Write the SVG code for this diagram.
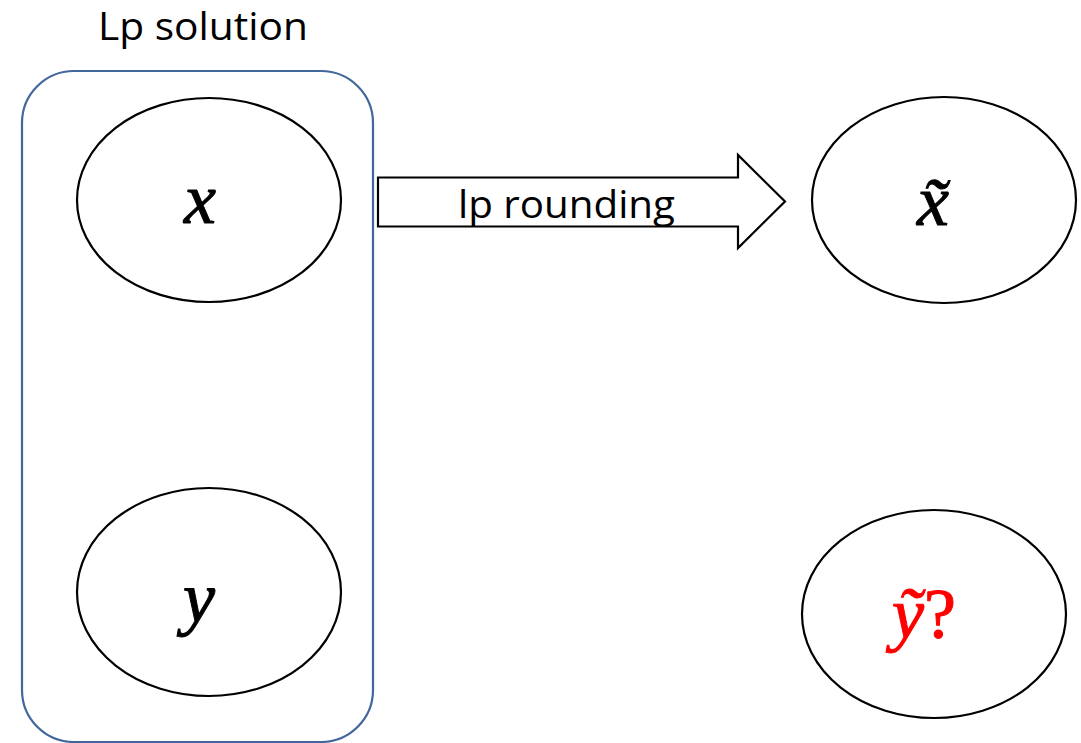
<svg xmlns="http://www.w3.org/2000/svg" width="1081" height="743" viewBox="0 0 1081 743">
<style>
.node{fill:#fff;stroke:#000;stroke-width:2.2}
.math{font-family:"Liberation Serif","DejaVu Serif",serif;font-style:italic;font-size:72px;text-anchor:middle;stroke:currentColor;stroke-width:1}
.lbl{font-family:"Open Sans","Liberation Sans",sans-serif;fill:#000}
</style>
<rect width="1081" height="743" fill="#fff"/>
<g id="lp-solution">
<rect x="22" y="71" width="351" height="671" rx="52" ry="52" fill="none" stroke="#41679c" stroke-width="2.2"/>
<text class="lbl" x="98" y="40" font-size="39" textLength="210" lengthAdjust="spacingAndGlyphs">Lp solution</text>
</g>
<g id="node-x">
<ellipse class="node" cx="209" cy="200" rx="132" ry="102"/>
<text class="math" x="200" y="223" color="#000">x</text>
</g>
<g id="node-y">
<ellipse class="node" cx="209" cy="592" rx="132" ry="104"/>
<text class="math" x="199" y="622" color="#000">y</text>
</g>
<g id="node-xt">
<ellipse class="node" cx="944" cy="200" rx="132" ry="103"/>
<text class="math" x="933" y="225" color="#000">x&#x303;</text>
</g>
<g id="node-yt">
<ellipse class="node" cx="934" cy="614" rx="132" ry="104"/>
<text class="math" x="924" y="638" color="#ff0000" fill="#ff0000" font-size="78">&#x1EF9;<tspan font-style="normal">?</tspan></text>
</g>
<g id="connectors">
<path d="M378,177.5 H738 V155 L785,201.5 L738,248 V226.5 H378 Z" fill="#fff" stroke="#000" stroke-width="2.2" stroke-linejoin="miter"/>
<text class="lbl" x="458" y="218" font-size="39" textLength="217" lengthAdjust="spacingAndGlyphs">lp rounding</text>
</g>
</svg>
